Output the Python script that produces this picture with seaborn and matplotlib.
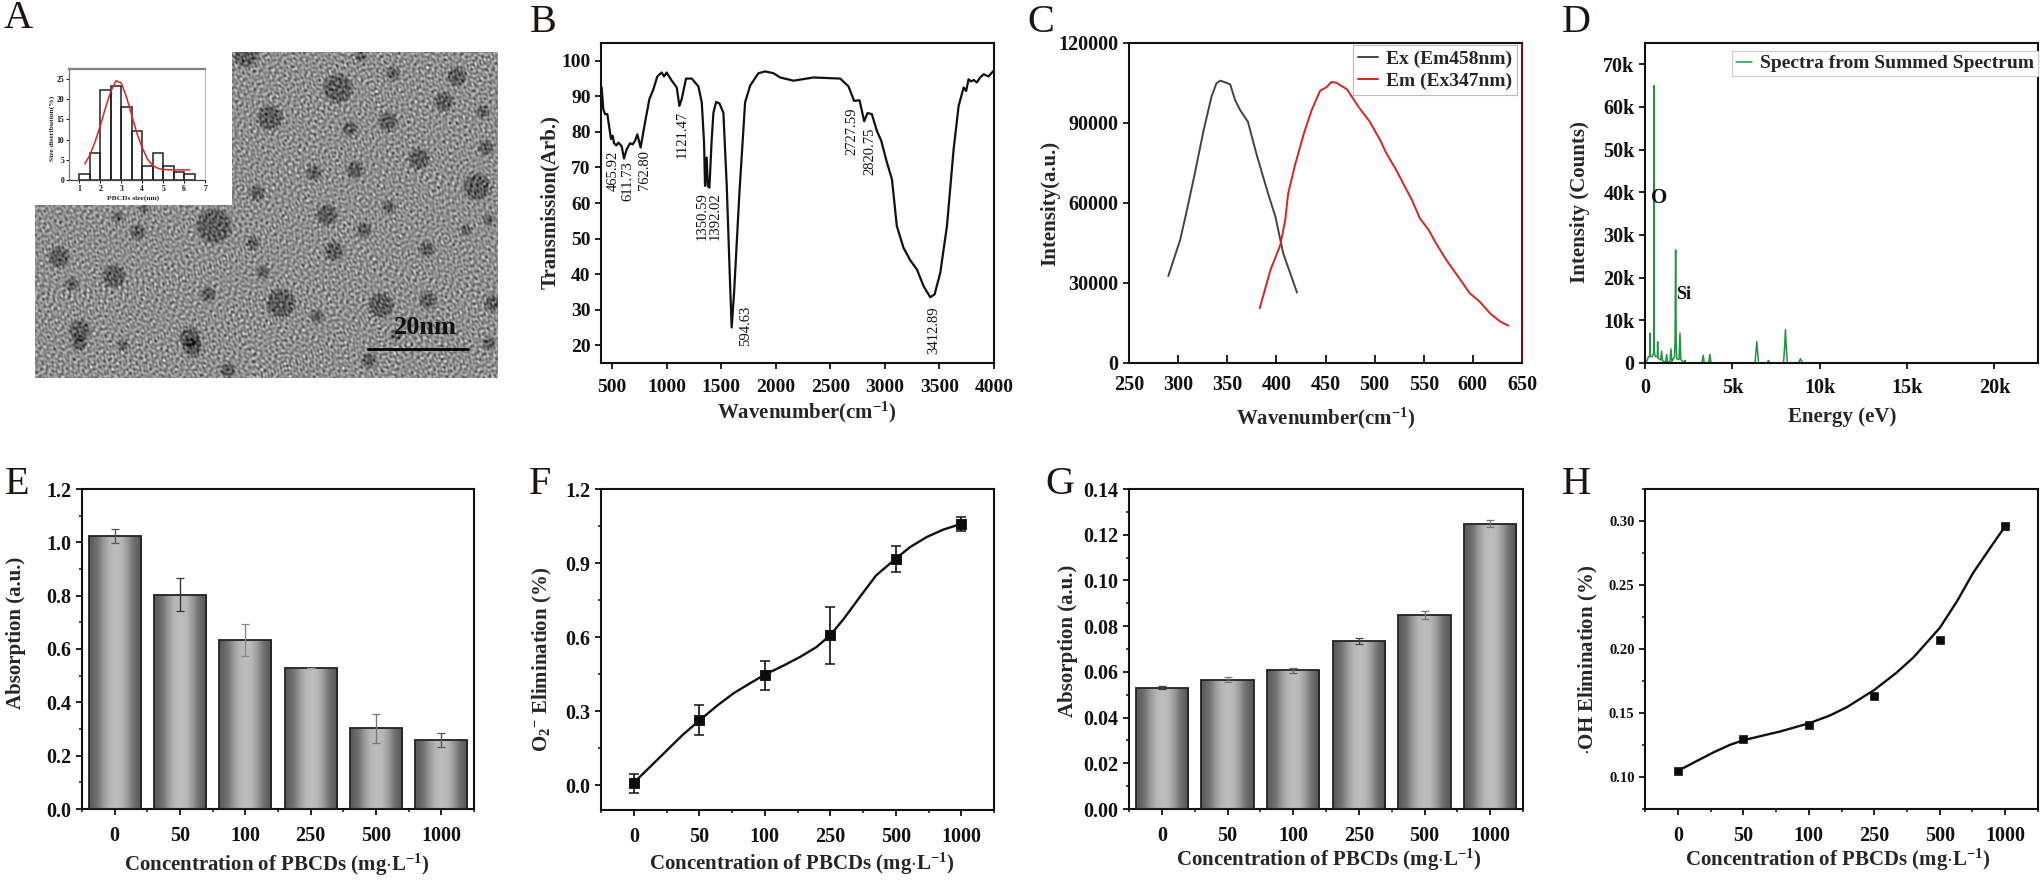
import numpy as np
import matplotlib
matplotlib.use("Agg")
import matplotlib.pyplot as plt
from matplotlib.ticker import MultipleLocator, FixedLocator, FuncFormatter
import seaborn as sns

# ---------- data ----------
conc_labels = ["0", "50", "100", "250", "500", "1000"]

hist_edges = [1, 1.5, 2, 2.5, 3, 3.5, 4, 4.5, 5, 5.5, 6, 6.5]
hist_vals = [1.5, 6.6, 22.4, 23.2, 18.2, 12.2, 3.4, 6.6, 3.4, 2.0, 1.5]
hist_fit_x = [1.25, 1.5, 1.75, 2, 2.25, 2.5, 2.75, 3, 3.25, 3.5, 3.75, 4, 4.25, 4.5, 4.75, 5, 5.5, 6.25]
hist_fit_y = [4, 6.2, 9.5, 13.5, 18, 22, 24.6, 24, 20.5, 16, 11.5, 8, 5.2, 3.6, 2.9, 2.6, 2.5, 2.5]

# particles of the micrograph: centre x, centre y, radius (image pixels)
particle_x = [337, 269, 387, 349, 392, 360, 245, 313, 354, 256, 326, 388, 213, 137, 252, 333, 58, 113, 71, 262,
              207, 280, 380, 363, 117, 143, 78, 192, 227, 368, 122, 456, 443, 482, 418, 485, 476, 488, 426, 465,
              427, 492, 488, 189, 79, 316, 395]
particle_y = [89, 118, 122, 129, 74, 57, 55, 173, 170, 193, 215, 207, 226, 232, 243, 251, 257, 276, 284, 272,
              294, 303, 305, 230, 217, 209, 343, 347, 370, 360, 345, 77, 102, 112, 159, 148, 187, 220, 249, 230,
              300, 303, 343, 337, 330, 316, 335]
particle_r = [14, 12, 9, 7, 6, 5, 12, 7, 8, 7, 10, 6, 17, 7, 6, 9, 10, 11, 6, 6,
              7, 14, 12, 7, 5, 4, 7, 9, 7, 7, 5, 9, 9, 6, 10, 7, 13, 5, 7, 5,
              8, 8, 6, 10, 10, 6, 5]

ftir_x = [406, 421, 437, 458, 476, 492, 507, 519, 540, 559, 589, 611, 635, 666, 690, 712, 733, 763, 803, 843, 880, 916,
          956, 977, 1002, 1048, 1094, 1118, 1139, 1179, 1231, 1292, 1323, 1344, 1353, 1368, 1378, 1393, 1414, 1430,
          1454, 1485, 1521, 1552, 1582, 1597, 1619, 1668, 1720, 1766, 1842, 1903, 1980, 2041, 2163, 2347, 2591, 2667,
          2719, 2768, 2811, 2841, 2881, 2927, 2967, 3019, 3065, 3110, 3171, 3233, 3294, 3355, 3416, 3456, 3508, 3569,
          3630, 3676, 3722, 3745, 3767, 3790, 3815, 3844, 3870, 3905, 3950, 3996]
ftir_y = [92.5, 86.4, 85, 85, 81.2, 78, 78.9, 76.8, 76.2, 77, 76, 72.5, 75.1, 76.8, 76.5, 77.5, 79.3, 75.6, 82.6, 89.2,
          92, 95.6, 96.7, 95.6, 96.7, 94.4, 92.5, 87.3, 89.2, 95, 95, 92.8, 88.3, 77, 64.8, 72.8, 64.8, 64.3, 77.9,
          85.4, 88.4, 88, 85.4, 64.8, 37.6, 25, 34.7, 62.9, 88.3, 93, 96.5, 97, 96.5, 95.3, 94.4, 95.3, 95, 92.8,
          88.7, 88.9, 83, 85.3, 85, 80.3, 77.5, 71.4, 66.7, 53.5, 47.4, 43.9, 41.3, 36.6, 33.5, 34.3, 40.4, 53.5,
          75.1, 87.3, 92.5, 91.5, 94.8, 94.2, 94.6, 93.9, 95.2, 96.2, 95.6, 97.2]
ftir_peak_labels = ["465.92", "611.73", "762.80", "1121.47", "1350.59", "1392.02", "594.63", "2727.59", "2820.75", "3412.89"]
ftir_peak_x = [513, 650, 797, 1145, 1323, 1445, 1725, 2698, 2866, 3450]
ftir_peak_top = [74.6, 71.8, 74.8, 86, 63.1, 63, 31.2, 86.9, 81.2, 31]

ex_x = [290, 302, 309, 317, 326, 334, 339, 343, 353, 358, 363, 371, 380, 392, 399, 407, 421]
ex_y = [32600, 46100, 57400, 71100, 87400, 99900, 104900, 105900, 104500, 98600, 94900, 90500, 78000, 63000, 54900, 41100, 26400]
em_x = [383, 394, 404, 409, 412, 419, 428, 436, 444.5, 451, 456, 461, 472, 483.5, 495, 505.6, 512, 521, 529, 538, 546, 555,
        561.5, 573, 585, 597, 607, 617.5, 628, 636]
em_y = [20500, 34900, 44250, 53600, 63600, 74250, 86100, 94900, 102100, 103400, 105400, 105100, 102600, 96100, 90500, 83600,
        78600, 73000, 67400, 61100, 54250, 49900, 45500, 38600, 32400, 26100, 23000, 18600, 15500, 14000]
em_base_x = [510, 650]
em_base_y = [0, 0]

eds_x = [60, 200, 270, 286, 300, 420, 500, 514, 530, 600, 710, 724, 740, 900, 952, 1000, 1180, 1238, 1290, 1430, 1486, 1540,
         1690, 1720, 1753, 1785, 1815, 1950, 2000, 2050, 2260, 2290, 2320, 2480, 3260, 3334, 3390, 3650, 3715, 3780, 4000,
         6300, 6350, 6400, 6450, 6500, 7000, 7068, 7130, 7930, 7990, 8040, 8090, 8150, 8780, 8900, 9020, 22500]
eds_y = [0, 1500, 1500, 7000, 1500, 1500, 2500, 65000, 2500, 1500, 1500, 5000, 1200, 700, 2800, 500, 200, 2000, 200, 300,
         3300, 400, 1500, 5000, 26500, 5000, 1000, 800, 7000, 800, 100, 600, 50, 50, 0, 1800, 0, 0, 2000, 0, 0,
         0, 2500, 5000, 2500, 0, 0, 600, 0, 0, 3500, 7800, 3500, 0, 0, 1000, 0, 0]

abs_e = [1.0225, 0.804, 0.635, 0.53, 0.303, 0.26]
abs_e_err = [0.026, 0.0625, 0.06, 0.0005, 0.055, 0.026]
abs_e_err_col = ["#555555", "#333333", "#8a8a8a", "#999999", "#777777", "#555555"]

f_y = [0.008, 0.265, 0.445, 0.608, 0.917, 1.057]
f_err = [0.039, 0.06, 0.06, 0.115, 0.053, 0.028]
f_curve_x = [0, 0.25, 0.5, 0.75, 1, 1.27, 1.52, 1.78, 2, 2.28, 2.54, 2.79, 3, 3.2, 3.45, 3.7, 4, 4.22, 4.47, 4.72, 5]
f_curve_y = [0.01, 0.075, 0.14, 0.205, 0.262, 0.322, 0.372, 0.414, 0.448, 0.484, 0.52, 0.56, 0.608, 0.672, 0.762, 0.85,
             0.918, 0.965, 1.005, 1.035, 1.059]

abs_g = [0.0531, 0.0566, 0.0607, 0.0734, 0.085, 0.1248]
abs_g_err = [0.0008, 0.001, 0.001, 0.0012, 0.0018, 0.0015]

h_y = [0.1047, 0.130, 0.1404, 0.1633, 0.2073, 0.2964]
h_curve_x = [0, 0.29, 0.544, 0.8, 1, 1.31, 1.56, 2, 2.32, 2.58, 3, 3.34, 3.6, 4, 4.26, 4.51, 4.77, 5]
h_curve_y = [0.1047, 0.1125, 0.1192, 0.1252, 0.1287, 0.1325, 0.1355, 0.1419, 0.148, 0.1545, 0.168, 0.1815, 0.1935, 0.2165,
             0.237, 0.2595, 0.279, 0.296]

bar_shade = [0.37, 0.45, 0.60, 0.71, 0.74, 0.72, 0.61, 0.45, 0.36]

conc_title = r"Concentration of PBCDs (mg$\cdot$L$^{-1}$)"
wavenumber_title = r"Wavenumber(cm$^{-1}$)"

# ---------- styling ----------
W, H = 2043, 880
sns.set_theme(style="ticks")
SERIF = ["Liberation Serif", "DejaVu Serif"]
plt.rcParams.update({
    "font.family": SERIF,
    "font.weight": "bold",
    "axes.labelweight": "bold",
    "mathtext.fontset": "custom",
    "mathtext.rm": "Liberation Serif:bold",
    "mathtext.it": "Liberation Serif:bold",
    "mathtext.bf": "Liberation Serif:bold",
    "axes.linewidth": 1.5,
    "xtick.major.width": 1.3,
    "ytick.major.width": 1.3,
    "xtick.minor.width": 1.1,
    "ytick.minor.width": 1.1,
    "xtick.major.size": 4.5,
    "ytick.major.size": 4.5,
    "xtick.minor.size": 2.5,
    "ytick.minor.size": 2.5,
    "xtick.color": "#111111",
    "ytick.color": "#111111",
    "axes.edgecolor": "#111111",
})
LABEL = 15


def panel(left, top, right, bottom):
    return fig.add_axes([left / W, 1 - bottom / H, (right - left) / W, (bottom - top) / H])


def titles(ax, box, xlabel, xpos, ylabel, ypos, size=LABEL):
    l, t, r, b = box
    ax.set_xlabel(xlabel, fontsize=size, va="center", ha="center")
    ax.set_ylabel(ylabel, fontsize=size, va="center", ha="center")
    ax.xaxis.set_label_coords((xpos[0] - l) / (r - l), (b - xpos[1]) / (b - t))
    ax.yaxis.set_label_coords((ypos[0] - l) / (r - l), (b - ypos[1]) / (b - t))


def category_axis(ax):
    ax.set_xlim(-0.5, 5.5)
    ax.set_xticks(range(6))
    ax.set_xticklabels(conc_labels)
    ax.xaxis.set_minor_locator(FixedLocator([-0.5, 0.5, 1.5, 2.5, 3.5, 4.5, 5.5]))
    ax.tick_params(axis="x", labelsize=14.5, pad=8)


def gradient_bars(ax, values, errors, err_colors):
    frame = np.array(bar_shade)[None, :]
    sns.barplot(x=conc_labels, y=values, ax=ax, color="#999999", width=0.8,
                edgecolor="#222222", linewidth=1.3, zorder=3, saturation=1)
    ylim = ax.get_ylim()
    for patch in ax.patches:
        x0, w = patch.get_x(), patch.get_width()
        h = patch.get_height()
        im = ax.imshow(frame, cmap="gray", vmin=0, vmax=1, aspect="auto", interpolation="bilinear",
                       extent=(x0, x0 + w, 0, h), zorder=2)
        im.set_clip_path(patch)
        patch.set_facecolor("none")
    for i, (v, e) in enumerate(zip(values, errors)):
        ax.errorbar(i, v, yerr=e, color=err_colors[i], capsize=3.2, elinewidth=1.0, capthick=0.9, zorder=4)
    ax.set_ylim(ylim)


fig = plt.figure(figsize=(W / 100, H / 100), dpi=100, facecolor="white")

# ---------- panel letters ----------
for letter, px, py in [("A", 4, 28), ("B", 530, 32), ("C", 1027, 32), ("D", 1562, 32),
                       ("E", 5, 494), ("F", 529, 494), ("G", 1045, 494), ("H", 1562, 494)]:
    fig.text(px / W, 1 - py / H, letter, fontsize=29, fontweight="normal", color="#1c1410", va="baseline", ha="left")

# ---------- A: micrograph stand-in built from the particle lists, with the histogram inset ----------
ax_a = panel(34.5, 52, 497, 378)
gx, gy = np.meshgrid(np.arange(34.5, 497, 1.0), np.arange(52, 378, 1.0))
field = np.full(gx.shape, 0.56)
for n in range(1, 90):
    angle = n * 2.39996
    freq = 2 * np.pi / (3.2 + (n * 0.618 % 1) * 4.0)
    field += 0.014 * np.sin(freq * (gx * np.cos(angle) + gy * np.sin(angle)) + n * 1.7)
for px, py, pr in zip(particle_x, particle_y, particle_r):
    d = np.hypot(gx - px, gy - py)
    field -= 0.2 * np.clip((pr + 2 - d) / 4.0, 0, 1)
ax_a.imshow(field, cmap="gray", vmin=0, vmax=1, extent=(34.5, 497, 378, 52), aspect="auto", interpolation="bilinear")
ax_a.axis("off")
ax_a.fill_between([34.5, 232], 52, 205, color="white", zorder=2, lw=0)
ax_a.plot([368, 468], [349, 349], color="black", lw=2, zorder=3)
ax_a.text(425, 327, "20nm", fontsize=19, ha="center", va="center", color="#111111", zorder=3)
ax_a.set_xlim(34.5, 497)
ax_a.set_ylim(378, 52)

box = (69, 69, 205, 180)
ins = panel(*box)
ins.set_zorder(5)
sns.histplot(x=[(a + b) / 2 for a, b in zip(hist_edges[:-1], hist_edges[1:])], weights=hist_vals, bins=hist_edges,
             ax=ins, fill=False, color="#222222", linewidth=1.1)
sns.lineplot(x=hist_fit_x, y=hist_fit_y, ax=ins, color="#e0202a", lw=1.1)
ins.set_xlim(0.5, 7)
ins.set_ylim(0, 27.5)
ins.set_xticks(range(1, 8))
ins.set_yticks([0, 5, 10, 15, 20, 25])
ins.tick_params(labelsize=5.5, length=2, width=0.7, pad=1.5)
for s, c, w in [("top", "#808080", 1.6), ("right", "#bbbbbb", 0.8), ("left", "#777777", 0.9), ("bottom", "#444444", 0.9)]:
    ins.spines[s].set_color(c)
    ins.spines[s].set_linewidth(w)
titles(ins, box, "PBCDs size(nm)", (133, 198), "Size distribution(%)", (52, 128), size=5.4)

# ---------- B: FTIR ----------
box = (601, 43, 994, 363)
ax = panel(*box)
sns.lineplot(x=ftir_x, y=ftir_y, ax=ax, color="#111111", lw=1.6, sort=False)
for label, x, top in zip(ftir_peak_labels, ftir_peak_x, ftir_peak_top):
    ax.text(x, top, label, rotation=90, fontsize=10.5, ha="center", va="top", fontweight="normal", color="#111111")
ax.set_xlim(400, 4000)
ax.set_ylim(15, 105)
ax.set_xticks(range(500, 4001, 500))
ax.set_yticks(range(20, 101, 10))
ax.tick_params(labelsize=14, pad=3)
ax.tick_params(axis="x", pad=7)
titles(ax, box, wavenumber_title, (807, 412), "Transmission(Arb.)", (550, 202))

# ---------- C: excitation / emission ----------
box = (1129, 43, 1522, 363)
ax = panel(*box)
sns.lineplot(x=ex_x, y=ex_y, ax=ax, color="#444444", lw=1.4, label="Ex (Em458nm)")
sns.lineplot(x=em_x, y=em_y, ax=ax, color="#e02020", lw=1.4, label="Em (Ex347nm)")
sns.lineplot(x=em_base_x, y=em_base_y, ax=ax, color="#e02020", lw=1.2, legend=False, clip_on=False)
ax.set_xlim(250, 650)
ax.set_ylim(0, 120000)
ax.set_xticks(range(250, 651, 50))
ax.set_yticks(range(0, 120001, 30000))
ax.tick_params(labelsize=14.5, pad=3)
ax.tick_params(axis="x", direction="in", pad=9, length=6)
ax.spines["right"].set_color("#7a1010")
leg = ax.legend(loc="upper right", bbox_to_anchor=(0.987, 0.993), fontsize=14, frameon=True, fancybox=False,
                edgecolor="#bbbbbb", framealpha=1, borderpad=0.25, handlelength=1.05, labelspacing=0.25, handletextpad=0.4,
                borderaxespad=0)
leg.get_frame().set_linewidth(0.8)
titles(ax, box, wavenumber_title, (1326, 418), "Intensity(a.u.)", (1050, 203))

# ---------- D: EDS ----------
box = (1645, 43, 2038, 363)
ax = panel(*box)
sns.lineplot(x=eds_x, y=eds_y, ax=ax, color="#1f9440", lw=1.1, label="Spectra from Summed Spectrum", sort=False)
ax.set_xlim(0, 22500)
ax.set_ylim(0, 75000)
ax.set_xticks(range(0, 20001, 5000))
ax.set_yticks(range(0, 70001, 10000))
thousands = FuncFormatter(lambda v, _: "0" if v == 0 else f"{int(v / 1000)}k")
ax.xaxis.set_major_formatter(thousands)
ax.yaxis.set_major_formatter(thousands)
ax.tick_params(labelsize=14.5, pad=3)
ax.tick_params(axis="x", pad=6)
leg = ax.legend(loc="upper right", bbox_to_anchor=(1.0, 0.975), fontsize=14, frameon=True, fancybox=False,
                edgecolor="#cccccc", framealpha=1, borderpad=0.2, handlelength=0.85, handletextpad=0.4, borderaxespad=0)
leg.get_frame().set_linewidth(0.8)
ax.annotate("O", xy=(0.035, 0.515), xycoords="axes fraction", fontsize=15, ha="center", va="center", color="#111111")
ax.annotate("Si", xy=(0.098, 0.215), xycoords="axes fraction", fontsize=13, ha="center", va="center", color="#111111")
titles(ax, box, "Energy (eV)", (1842, 417), "Intensity (Counts)", (1580, 202))

# ---------- E: bars ----------
box = (82, 489, 474, 809)
ax = panel(*box)
gradient_bars(ax, abs_e, abs_e_err, abs_e_err_col)
ax.set_ylim(0, 1.2)
category_axis(ax)
ax.set_yticks(np.arange(0, 1.21, 0.2))
ax.yaxis.set_major_formatter(FuncFormatter(lambda v, _: f"{v:.1f}"))
ax.yaxis.set_minor_locator(MultipleLocator(0.1))
ax.tick_params(axis="y", labelsize=14.5, pad=3)
titles(ax, box, conc_title, (277, 865), "Absorption (a.u.)", (16, 633))

# ---------- F: curve with error bars ----------
box = (601, 489, 994, 810)
ax = panel(*box)
sns.lineplot(x=f_curve_x, y=f_curve_y, ax=ax, color="#111111", lw=1.7)
ax.errorbar(range(6), f_y, yerr=f_err, fmt="none", ecolor="#111111", capsize=3.6, elinewidth=1.2, capthick=1.1)
sns.scatterplot(x=list(range(6)), y=f_y, ax=ax, marker="s", s=62, color="#0c0c0c", edgecolor="#0c0c0c", zorder=4)
ax.set_ylim(-0.1, 1.2)
category_axis(ax)
ax.set_yticks([0, 0.3, 0.6, 0.9, 1.2])
ax.yaxis.set_major_formatter(FuncFormatter(lambda v, _: f"{v:.1f}"))
ax.yaxis.set_minor_locator(MultipleLocator(0.15))
ax.tick_params(axis="y", labelsize=14.5, pad=3)
titles(ax, box, conc_title, (802, 864), r"O$_{2}$$^{-}$ Elimination (%)", (542, 659))

# ---------- G: bars ----------
box = (1129, 489, 1523, 809)
ax = panel(*box)
gradient_bars(ax, abs_g, abs_g_err, ["#444444", "#777777", "#666666", "#444444", "#777777", "#777777"])
ax.set_ylim(0, 0.14)
category_axis(ax)
ax.set_yticks(np.arange(0, 0.141, 0.02))
ax.yaxis.set_major_formatter(FuncFormatter(lambda v, _: f"{v:.2f}"))
ax.yaxis.set_minor_locator(MultipleLocator(0.01))
ax.tick_params(axis="y", labelsize=14.5, pad=3)
titles(ax, box, conc_title, (1329, 860), "Absorption (a.u.)", (1068, 641))

# ---------- H: curve ----------
box = (1645, 489, 2038, 809)
ax = panel(*box)
sns.lineplot(x=h_curve_x, y=h_curve_y, ax=ax, color="#111111", lw=1.7)
sns.scatterplot(x=list(range(6)), y=h_y, ax=ax, marker="s", s=36, color="#0c0c0c", edgecolor="#0c0c0c", zorder=4)
ax.set_ylim(0.075, 0.325)
category_axis(ax)
ax.set_yticks([0.10, 0.15, 0.20, 0.25, 0.30])
ax.yaxis.set_major_formatter(FuncFormatter(lambda v, _: f"{v:.2f}"))
ax.yaxis.set_minor_locator(MultipleLocator(0.025))
ax.tick_params(axis="y", labelsize=10.5, pad=3)
titles(ax, box, conc_title, (1838, 860), r"$\cdot$OH Elimination (%)", (1588, 660))

fig.savefig("out.png", dpi=100, facecolor="white")
